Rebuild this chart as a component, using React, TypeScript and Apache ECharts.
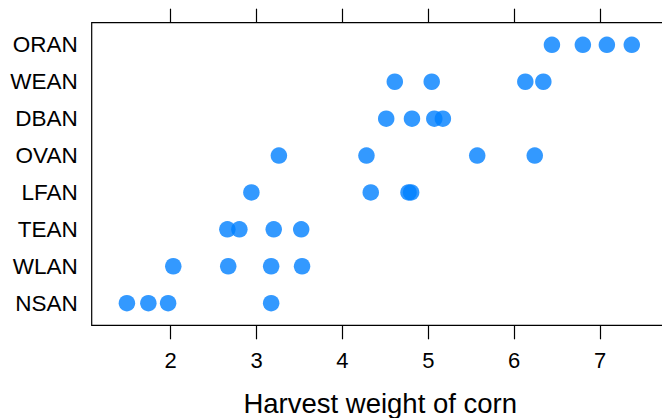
import React, { useEffect, useRef } from "react";
import * as echarts from "echarts";

// Categories, top to bottom
const categories = ["ORAN", "WEAN", "DBAN", "OVAN", "LFAN", "TEAN", "WLAN", "NSAN"];

// Harvest weights per site
const ORAN = [6.44, 6.8, 7.08, 7.37];
const WEAN = [4.61, 5.04, 6.13, 6.34];
const DBAN = [4.51, 4.81, 5.07, 5.17];
const OVAN = [3.26, 4.28, 5.57, 6.24];
const LFAN = [2.94, 4.33, 4.77, 4.8];
const TEAN = [2.66, 2.8, 3.2, 3.52];
const WLAN = [2.03, 2.67, 3.17, 3.53];
const NSAN = [1.49, 1.74, 1.97, 3.17];

const seriesValues = [ORAN, WEAN, DBAN, OVAN, LFAN, TEAN, WLAN, NSAN];
const xTicks = [2, 3, 4, 5, 6, 7];
const xTitle = "Harvest weight of corn";

export default function App() {
  const ref = useRef<HTMLDivElement>(null);
  useEffect(() => {
    if (!ref.current) return;
    const chart = echarts.init(ref.current, null, { renderer: "svg" });
    const n = categories.length;
    const points: number[][] = [];
    seriesValues.forEach((vals, i) => {
      vals.forEach((v) => points.push([v, n - i]));
    });
    const yVals = categories.map((_, i) => n - i);
    const font = "Liberation Sans, Arial, Helvetica, sans-serif";
    chart.setOption({
      animation: false,
      grid: {
        left: 91.7,
        top: 22.7,
        width: 577,
        height: 302.6,
        show: true,
        borderColor: "#000",
        borderWidth: 1.2,
        backgroundColor: "transparent",
        outerBoundsMode: "none",
        containLabel: false,
      },
      xAxis: [
        {
          type: "value",
          min: 1.08,
          max: 7.8,
          position: "bottom",
          splitLine: { show: false },
          axisLine: { show: false },
          axisTick: {
            show: true,
            inside: false,
            length: 14,
            lineStyle: { color: "#000", width: 1.2 },
            customValues: xTicks,
          },
          axisLabel: {
            show: true,
            customValues: xTicks,
            color: "#000",
            fontSize: 22,
            fontFamily: font,
            margin: 24,
          },
          name: xTitle,
          nameLocation: "middle",
          nameGap: 64.5,
          nameTextStyle: { color: "#000", fontSize: 27.5, fontFamily: font },
        },
        {
          type: "value",
          min: 1.08,
          max: 7.8,
          position: "top",
          splitLine: { show: false },
          axisLine: { show: false },
          axisTick: {
            show: true,
            inside: false,
            length: 14,
            lineStyle: { color: "#000", width: 1.2 },
            customValues: xTicks,
          },
          axisLabel: { show: false },
        },
      ],
      yAxis: {
        type: "value",
        min: 0.4,
        max: 8.6,
        splitLine: { show: false },
        axisLine: { show: false },
        axisTick: { show: false },
        axisLabel: {
          customValues: yVals,
          color: "#000",
          fontSize: 22.5,
          fontFamily: font,
          margin: 14,
          formatter: (v: number) => categories[n - Math.round(v)] ?? "",
        },
      },
      series: [
        {
          type: "scatter",
          data: points,
          symbol: "circle",
          symbolSize: 16.5,
          itemStyle: { color: "rgb(0,128,255)", opacity: 0.8 },
        },
      ],
    });
    return () => chart.dispose();
  }, []);
  return (
    <div
      ref={ref}
      style={{ position: "fixed", left: 0, top: 0, width: 700, height: 418, background: "#fff" }}
    />
  );
}
